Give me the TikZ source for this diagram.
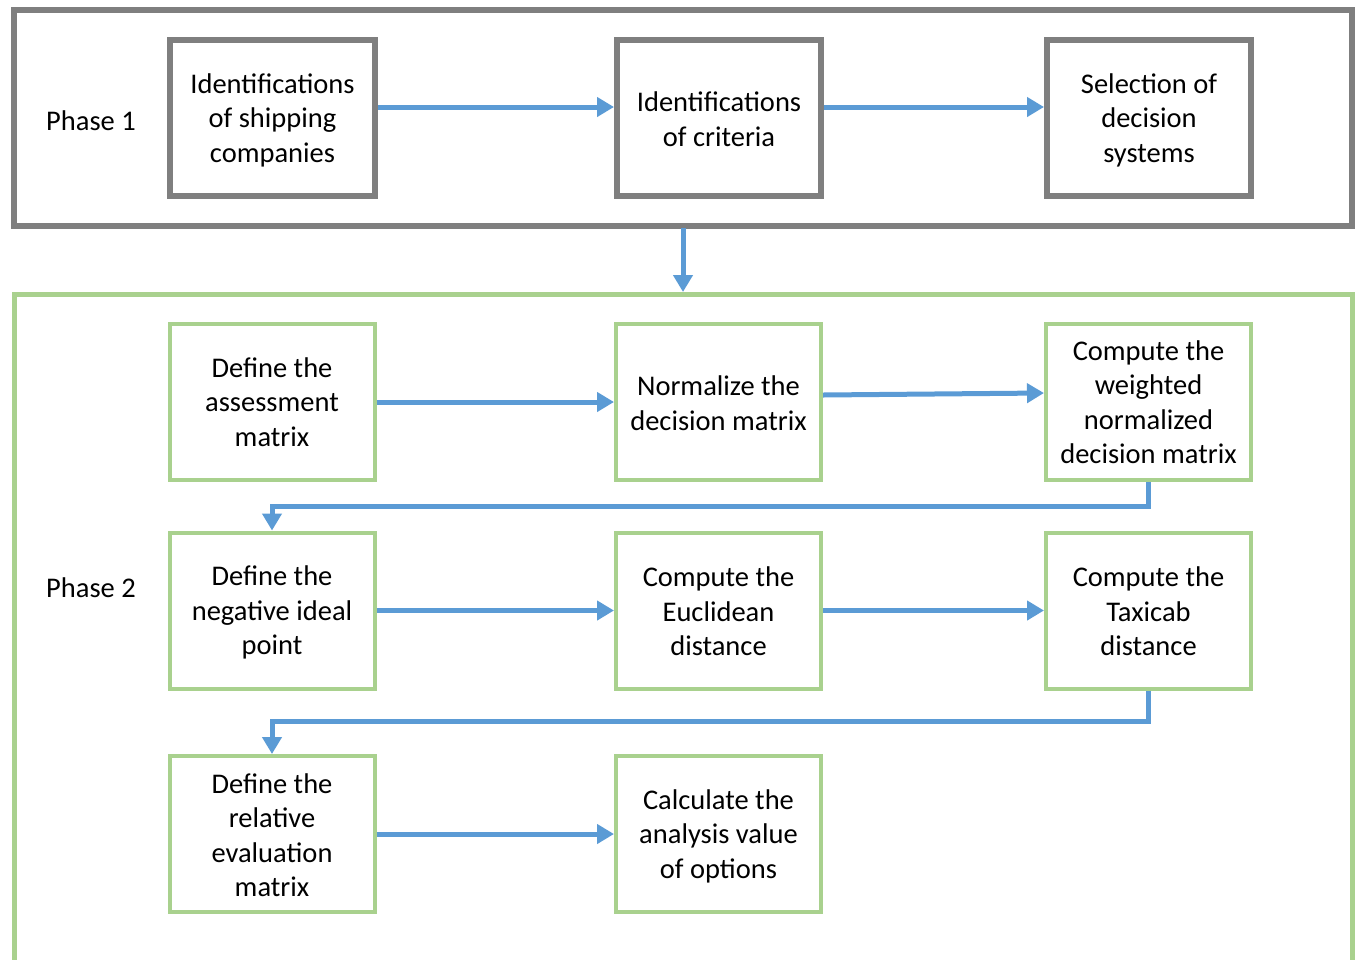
\documentclass[tikz,border=0pt]{standalone}
\usepackage{fontspec}
\setmainfont{Carlito}
\usetikzlibrary{arrows.meta}
\definecolor{pgray}{HTML}{7F7F7F}
\definecolor{pgreen}{HTML}{A9D18E}
\definecolor{pblue}{HTML}{5B9BD5}
\tikzset{
  graybox/.style={draw=pgray, line width=6pt, fill=white},
  greenbox/.style={draw=pgreen, line width=4pt, fill=white},
  txt/.style={font=\fontsize{28.5}{34.5}\selectfont, align=center, inner sep=0pt},
  flow/.style={draw=pblue, line width=5pt, -{Triangle[width=19pt,length=17pt]}},
}
\begin{document}
\begin{tikzpicture}[x=1pt,y=-1pt]
\useasboundingbox (0,0) rectangle (1356,959);
\clip (0,0) rectangle (1356,959);
% outer frames
\draw[draw=pgray, line width=6pt] (14,10) rectangle (1352,225.5);
\draw[draw=pgreen, line width=5pt] (14.5,294) rectangle (1352,980);
% phase 1 boxes
\draw[graybox] (170,40) rectangle (375,196);
\draw[graybox] (617,40) rectangle (821,196);
\draw[graybox] (1047,40) rectangle (1251,196);
\node[txt] (p1) at (91,121) {Phase 1};
\node[txt] (a1) at (272.5,120) {Identifications\\of shipping\\companies};
\node[txt] (a2) at (719,119) {Identifications\\of criteria};
\node[txt] (a3) at (1149,120) {Selection of\\decision\\systems};
\coordinate (a1e) at (378,107);
\coordinate (a2w) at (614,107);
\coordinate (a2e) at (824,107);
\coordinate (a3w) at (1044,107);
\draw[flow] (a1e) -- (a2w);
\draw[flow] (a2e) -- (a3w);
\coordinate (d1) at (683,228);
\coordinate (d2) at (683,292);
\draw[flow] (d1) -- (d2);
% phase 2
\node[txt] (p2) at (91,588) {Phase 2};
\node[greenbox, minimum width=205pt, minimum height=156pt] (b1) at (272,402) {};
\node[greenbox, minimum width=205pt, minimum height=156pt] (b2) at (718.5,402) {};
\node[greenbox, minimum width=205pt, minimum height=156pt] (b3) at (1148.5,402) {};
\node[greenbox, minimum width=205pt, minimum height=156pt] (b4) at (272,610.5) {};
\node[greenbox, minimum width=205pt, minimum height=156pt] (b5) at (718.5,610.5) {};
\node[greenbox, minimum width=205pt, minimum height=156pt] (b6) at (1148.5,610.5) {};
\node[greenbox, minimum width=205pt, minimum height=156pt] (b7) at (272,834) {};
\node[greenbox, minimum width=205pt, minimum height=156pt] (b8) at (718.5,834) {};
\node[txt] at (b1) {Define the\\assessment\\matrix};
\node[txt] at ([yshift=-1pt]b2) {Normalize the\\decision matrix};
\node[txt] at (b3) {Compute the\\weighted\\normalized\\decision matrix};
\node[txt] at ([yshift=-2pt]b4) {Define the\\negative ideal\\point};
\node[txt] at ([yshift=-1pt]b5) {Compute the\\Euclidean\\distance};
\node[txt] at ([yshift=-1pt]b6) {Compute the\\Taxicab\\distance};
\node[txt] at ([yshift=-1pt]b7) {Define the\\relative\\evaluation\\matrix};
\node[txt] at ([yshift=-2pt]b8) {Calculate the\\analysis value\\of options};
\draw[flow] (b1.east) -- (b2.west);
\draw[flow] ([yshift=7pt]b2.east) -- ([yshift=9pt]b3.west);
\draw[flow] (b4.east) -- (b5.west);
\draw[flow] (b5.east) -- (b6.west);
\draw[flow] (b7.east) -- (b8.west);
\draw[flow] (b3.south) -- ++(0,24) -| (b4.north);
\draw[flow] (b6.south) -- ++(0,31) -| (b7.north);
\end{tikzpicture}
\end{document}
